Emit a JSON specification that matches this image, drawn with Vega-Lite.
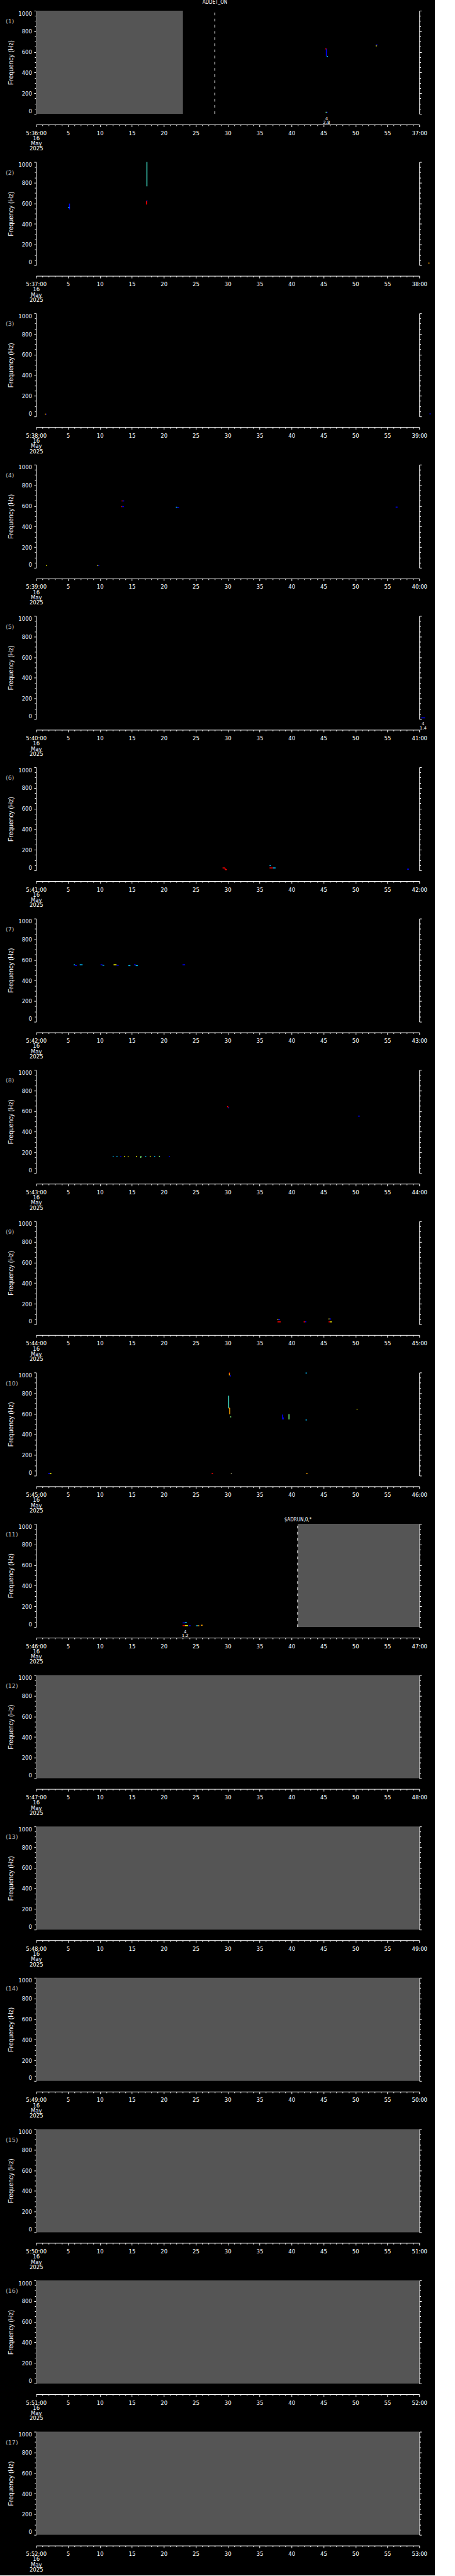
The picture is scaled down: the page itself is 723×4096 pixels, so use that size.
{
"$schema": "https://vega.github.io/schema/vega-lite/v6.json",
"padding": {"left": 8.25, "top": 0, "right": 5, "bottom": 5},
"bounds": "flush",
"spacing": 76.6,
"config": {
  "background": "#000000",
  "view": {"stroke": null, "fill": "#000000"},
  "axis": {"domainColor": "#ffffff", "tickColor": "#ffffff", "labelColor": "#ffffff", "titleColor": "#ffffff", "labelFont": "DejaVu Sans", "labelFontSize": 8.5, "domainWidth": 1, "tickWidth": 1, "grid": false}
},
"datasets": {
"m": [
{"p":1,"k":"grey","s0":0,"s1":23.0,"f0":0,"f1":1000},
{"p":1,"k":"dash","s0":28.0,"f0":0,"f1":1000},
{"p":1,"k":"ev","s0":28.0,"f0":1077,"label":"ADDET_ON"},
{"p":1,"k":"seg","s0":45.45,"s1":45.45,"f0":633,"f1":559,"lv":0},
{"p":1,"k":"seg","s0":45.3,"s1":45.45,"f0":630,"f1":630,"lv":6},
{"p":1,"k":"seg","s0":45.5,"s1":45.7,"f0":557,"f1":557,"lv":1},
{"p":1,"k":"seg","s0":53.25,"s1":53.25,"f0":668,"f1":653,"lv":4},
{"p":1,"k":"seg","s0":53.25,"s1":53.45,"f0":668,"f1":668,"lv":0},
{"p":1,"k":"seg","s0":45.34,"s1":45.5,"f0":15,"f1":15,"lv":3},
{"p":1,"k":"seg","s0":45.5,"s1":45.65,"f0":15,"f1":15,"lv":0},
{"p":1,"k":"note","s0":45.48,"f0":-47,"label":"4\n2.8"},
{"p":2,"k":"seg","s0":17.36,"s1":17.36,"f0":1000,"f1":764,"lv":2},
{"p":2,"k":"seg","s0":17.3,"s1":17.3,"f0":623,"f1":587,"lv":6},
{"p":2,"k":"seg","s0":17.3,"s1":17.45,"f0":623,"f1":623,"lv":0},
{"p":2,"k":"seg","s0":5.24,"s1":5.24,"f0":597,"f1":540,"lv":0},
{"p":2,"k":"seg","s0":5.0,"s1":5.24,"f0":557,"f1":557,"lv":1},
{"p":2,"k":"seg","s0":61.4,"s1":61.6,"f0":20,"f1":20,"lv":5},
{"p":3,"k":"seg","s0":1.4,"s1":1.55,"f0":22,"f1":22,"lv":5},
{"p":3,"k":"seg","s0":1.55,"s1":1.65,"f0":22,"f1":22,"lv":0},
{"p":3,"k":"seg","s0":61.6,"s1":61.8,"f0":25,"f1":25,"lv":0},
{"p":4,"k":"seg","s0":13.4,"s1":13.55,"f0":648,"f1":648,"lv":6},
{"p":4,"k":"seg","s0":13.55,"s1":13.8,"f0":648,"f1":648,"lv":0},
{"p":4,"k":"seg","s0":13.35,"s1":13.5,"f0":593,"f1":593,"lv":6},
{"p":4,"k":"seg","s0":13.5,"s1":13.75,"f0":593,"f1":593,"lv":0},
{"p":4,"k":"seg","s0":21.9,"s1":22.1,"f0":587,"f1":587,"lv":1},
{"p":4,"k":"seg","s0":22.1,"s1":22.4,"f0":583,"f1":583,"lv":0},
{"p":4,"k":"seg","s0":56.3,"s1":56.6,"f0":588,"f1":588,"lv":0},
{"p":4,"k":"seg","s0":1.6,"s1":1.75,"f0":22,"f1":22,"lv":4},
{"p":4,"k":"seg","s0":9.6,"s1":9.75,"f0":22,"f1":22,"lv":4},
{"p":4,"k":"seg","s0":9.75,"s1":9.9,"f0":22,"f1":22,"lv":0},
{"p":5,"k":"seg","s0":60.3,"s1":60.9,"f0":12,"f1":12,"lv":0},
{"p":5,"k":"note","s0":60.6,"f0":-47,"label":"4\n1.4"},
{"p":6,"k":"seg","s0":29.2,"s1":29.6,"f0":24,"f1":24,"lv":6},
{"p":6,"k":"seg","s0":29.6,"s1":29.6,"f0":24,"f1":7,"lv":6},
{"p":6,"k":"seg","s0":29.6,"s1":29.9,"f0":7,"f1":7,"lv":6},
{"p":6,"k":"seg","s0":36.56,"s1":36.76,"f0":47,"f1":47,"lv":1},
{"p":6,"k":"seg","s0":36.56,"s1":37.1,"f0":24,"f1":24,"lv":6},
{"p":6,"k":"seg","s0":37.1,"s1":37.5,"f0":24,"f1":24,"lv":1},
{"p":6,"k":"seg","s0":58.1,"s1":58.4,"f0":12,"f1":12,"lv":0},
{"p":7,"k":"seg","s0":5.9,"s1":6.1,"f0":552,"f1":552,"lv":1},
{"p":7,"k":"seg","s0":6.1,"s1":6.4,"f0":545,"f1":545,"lv":0},
{"p":7,"k":"seg","s0":6.84,"s1":7.29,"f0":552,"f1":552,"lv":1},
{"p":7,"k":"seg","s0":10.1,"s1":10.4,"f0":552,"f1":552,"lv":0},
{"p":7,"k":"seg","s0":10.4,"s1":10.67,"f0":548,"f1":548,"lv":1},
{"p":7,"k":"seg","s0":12.14,"s1":12.6,"f0":552,"f1":552,"lv":4},
{"p":7,"k":"seg","s0":12.6,"s1":12.95,"f0":548,"f1":548,"lv":0},
{"p":7,"k":"seg","s0":14.46,"s1":14.78,"f0":544,"f1":544,"lv":1},
{"p":7,"k":"seg","s0":15.35,"s1":15.6,"f0":552,"f1":552,"lv":0},
{"p":7,"k":"seg","s0":15.6,"s1":15.93,"f0":544,"f1":544,"lv":1},
{"p":7,"k":"seg","s0":22.94,"s1":23.34,"f0":552,"f1":552,"lv":0},
{"p":8,"k":"seg","s0":29.95,"s1":30.1,"f0":648,"f1":636,"lv":6},
{"p":8,"k":"seg","s0":30.1,"s1":30.24,"f0":632,"f1":632,"lv":0},
{"p":8,"k":"seg","s0":50.4,"s1":50.7,"f0":552,"f1":552,"lv":0},
{"p":8,"k":"seg","s0":12.0,"s1":12.15,"f0":160,"f1":160,"lv":1},
{"p":8,"k":"seg","s0":12.6,"s1":12.75,"f0":160,"f1":160,"lv":1},
{"p":8,"k":"seg","s0":13.2,"s1":13.35,"f0":160,"f1":160,"lv":0},
{"p":8,"k":"seg","s0":13.8,"s1":13.95,"f0":162,"f1":162,"lv":4},
{"p":8,"k":"seg","s0":14.35,"s1":14.5,"f0":158,"f1":158,"lv":4},
{"p":8,"k":"seg","s0":15.65,"s1":15.8,"f0":162,"f1":162,"lv":4},
{"p":8,"k":"seg","s0":16.35,"s1":16.5,"f0":160,"f1":160,"lv":3},
{"p":8,"k":"seg","s0":16.4,"s1":16.4,"f0":160,"f1":148,"lv":3},
{"p":8,"k":"seg","s0":17.1,"s1":17.25,"f0":160,"f1":160,"lv":1},
{"p":8,"k":"seg","s0":17.8,"s1":17.95,"f0":162,"f1":162,"lv":4},
{"p":8,"k":"seg","s0":18.5,"s1":18.65,"f0":160,"f1":160,"lv":1},
{"p":8,"k":"seg","s0":19.25,"s1":19.4,"f0":162,"f1":162,"lv":3},
{"p":8,"k":"seg","s0":20.8,"s1":20.95,"f0":160,"f1":160,"lv":0},
{"p":9,"k":"seg","s0":37.8,"s1":37.95,"f0":46,"f1":46,"lv":4},
{"p":9,"k":"seg","s0":37.95,"s1":38.2,"f0":46,"f1":46,"lv":0},
{"p":9,"k":"seg","s0":37.8,"s1":38.3,"f0":24,"f1":24,"lv":6},
{"p":9,"k":"seg","s0":41.9,"s1":42.15,"f0":24,"f1":24,"lv":6},
{"p":9,"k":"seg","s0":42.15,"s1":42.3,"f0":24,"f1":24,"lv":0},
{"p":9,"k":"seg","s0":45.8,"s1":45.95,"f0":52,"f1":52,"lv":4},
{"p":9,"k":"seg","s0":45.95,"s1":46.2,"f0":52,"f1":52,"lv":0},
{"p":9,"k":"seg","s0":45.8,"s1":46.05,"f0":24,"f1":24,"lv":6},
{"p":9,"k":"seg","s0":46.05,"s1":46.3,"f0":24,"f1":24,"lv":4},
{"p":10,"k":"seg","s0":30.16,"s1":30.16,"f0":775,"f1":655,"lv":2},
{"p":10,"k":"seg","s0":30.16,"s1":30.32,"f0":655,"f1":655,"lv":5},
{"p":10,"k":"seg","s0":30.32,"s1":30.32,"f0":655,"f1":595,"lv":5},
{"p":10,"k":"seg","s0":30.4,"s1":30.55,"f0":570,"f1":570,"lv":3},
{"p":10,"k":"seg","s0":30.27,"s1":30.27,"f0":997,"f1":972,"lv":5},
{"p":10,"k":"seg","s0":30.22,"s1":30.3,"f0":997,"f1":997,"lv":6},
{"p":10,"k":"seg","s0":30.45,"s1":30.45,"f0":972,"f1":962,"lv":0},
{"p":10,"k":"seg","s0":38.6,"s1":38.6,"f0":592,"f1":545,"lv":0},
{"p":10,"k":"seg","s0":38.7,"s1":38.7,"f0":565,"f1":545,"lv":0},
{"p":10,"k":"seg","s0":39.6,"s1":39.6,"f0":597,"f1":545,"lv":3},
{"p":10,"k":"seg","s0":42.2,"s1":42.4,"f0":995,"f1":995,"lv":1},
{"p":10,"k":"seg","s0":42.2,"s1":42.4,"f0":540,"f1":540,"lv":1},
{"p":10,"k":"seg","s0":50.2,"s1":50.3,"f0":643,"f1":643,"lv":4},
{"p":10,"k":"seg","s0":1.9,"s1":2.15,"f0":20,"f1":20,"lv":0},
{"p":10,"k":"seg","s0":2.15,"s1":2.4,"f0":20,"f1":20,"lv":4},
{"p":10,"k":"seg","s0":27.5,"s1":27.7,"f0":22,"f1":22,"lv":6},
{"p":10,"k":"seg","s0":30.5,"s1":30.6,"f0":22,"f1":22,"lv":4},
{"p":10,"k":"seg","s0":30.6,"s1":30.7,"f0":22,"f1":22,"lv":0},
{"p":10,"k":"seg","s0":42.3,"s1":42.5,"f0":22,"f1":22,"lv":5},
{"p":11,"k":"grey","s0":40.96,"s1":60,"f0":0,"f1":1000},
{"p":11,"k":"dash","s0":40.96,"f0":0,"f1":1000},
{"p":11,"k":"ev","s0":41.0,"f0":1036,"label":"$ADRUN,0,*"},
{"p":11,"k":"seg","s0":22.95,"s1":23.3,"f0":40,"f1":40,"lv":0},
{"p":11,"k":"seg","s0":23.3,"s1":23.6,"f0":42,"f1":42,"lv":1},
{"p":11,"k":"seg","s0":22.95,"s1":23.3,"f0":13,"f1":13,"lv":6},
{"p":11,"k":"seg","s0":23.3,"s1":23.8,"f0":13,"f1":13,"lv":4},
{"p":11,"k":"seg","s0":23.9,"s1":24.2,"f0":12,"f1":12,"lv":0},
{"p":11,"k":"seg","s0":25.07,"s1":25.3,"f0":12,"f1":12,"lv":1},
{"p":11,"k":"seg","s0":25.3,"s1":25.55,"f0":12,"f1":12,"lv":5},
{"p":11,"k":"seg","s0":25.8,"s1":26.07,"f0":17,"f1":17,"lv":5},
{"p":11,"k":"note","s0":23.35,"f0":-47,"label":"4\n1.2"},
{"p":12,"k":"grey","s0":0,"s1":60,"f0":0,"f1":1000},
{"p":13,"k":"grey","s0":0,"s1":60,"f0":0,"f1":1000},
{"p":14,"k":"grey","s0":0,"s1":60,"f0":0,"f1":1000},
{"p":15,"k":"grey","s0":0,"s1":60,"f0":0,"f1":1000},
{"p":16,"k":"grey","s0":0,"s1":60,"f0":0,"f1":1000},
{"p":17,"k":"grey","s0":0,"s1":60,"f0":0,"f1":1000}
]
},
"data": {"name": "m"},
"vconcat": [
{"width":609,"height":164,"transform":[{"filter":"datum.p==1"}],"resolve":{"axis":{"x":"independent","y":"independent"}},"layer":[
{"transform":[{"filter":"datum.k=='grey'"}],"mark":{"type":"rect","fill":"#555555"},"encoding":{"x":{"field":"s0","type":"quantitative","scale":{"domain":[0,60],"nice":false,"zero":false},"axis":{"title":null,"offset":17,"values":[0,1,2,3,4,5,6,7,8,9,10,11,12,13,14,15,16,17,18,19,20,21,22,23,24,25,26,27,28,29,30,31,32,33,34,35,36,37,38,39,40,41,42,43,44,45,46,47,48,49,50,51,52,53,54,55,56,57,58,59,60],"tickSize":{"condition":{"test":"datum.value % 5 == 0","value":3.5},"value":2},"labelFlush":false,"labelOverlap":false,"labelBound":false,"labelPadding":5.6,"labelLineHeight":8.25,"labelExpr":"datum.value == 0 ? ['5:36:00','16','May','2025'] : datum.value == 60 ? '37:00' : datum.value % 5 == 0 ? '' + datum.value : ''"}},"x2":{"field":"s1"},"y":{"field":"f0","type":"quantitative","scale":{"domain":[0,1000],"nice":false,"zero":false},"axis":{"title":"Frequency (Hz)","values":[0,50,100,150,200,250,300,350,400,450,500,550,600,650,700,750,800,850,900,950,1000],"format":"d","labelExpr":"datum.value % 200 == 0 ? datum.label : ''","tickSize":{"condition":{"test":"datum.value % 200 == 0","value":3.3},"value":2.3},"labelPadding":3.5,"labelFlush":true,"labelOverlap":false,"titleX":-36.95,"titleY":82,"titleAngle":-90,"titleAlign":"center","titleBaseline":"alphabetic","titleFont":"Liberation Sans","titleFontSize":10.3,"titleFontWeight":"normal"}},"y2":{"field":"f1"}}},
{"transform":[{"filter":"datum.k=='seg'"}],"mark":{"type":"rule","strokeWidth":1.5},"encoding":{"x":{"field":"s0","type":"quantitative","axis":null},"x2":{"field":"s1"},"y":{"field":"f0","type":"quantitative","axis":{"orient":"right","title":"(1)","values":[0,50,100,150,200,250,300,350,400,450,500,550,600,650,700,750,800,850,900,950,1000],"labels":false,"tickSize":{"condition":{"test":"datum.value % 200 == 0","value":3.3},"value":2.3},"titleX":-657.65,"titleY":16.6,"titleAngle":0,"titleAlign":"left","titleBaseline":"middle","titleFont":"DejaVu Sans","titleFontSize":9.5,"titleFontWeight":"normal","titleColor":"#b4b4b4"}},"y2":{"field":"f1"},"color":{"field":"lv","type":"ordinal","scale":{"domain":[0,1,2,3,4,5,6],"range":["#0000ff","#00bfff","#40e0c8","#80ff80","#ffff00","#ffa500","#ff0000"]},"legend":null}}},
{"transform":[{"filter":"datum.k=='dash'"}],"mark":{"type":"rule","color":"#ffffff","strokeDash":[4.2,5.6],"strokeWidth":1.2},"encoding":{"x":{"field":"s0","type":"quantitative","axis":null},"y":{"field":"f0","type":"quantitative","axis":null},"y2":{"field":"f1"}}},
{"transform":[{"filter":"datum.k=='ev'"}],"mark":{"type":"text","color":"#ffffff","font":"Liberation Sans Narrow, DejaVu Sans Condensed, DejaVu Sans","fontSize":8,"baseline":"middle"},"encoding":{"x":{"field":"s0","type":"quantitative","axis":null},"y":{"field":"f0","type":"quantitative","axis":null},"text":{"field":"label"}}},
{"transform":[{"filter":"datum.k=='note'"}],"mark":{"type":"text","color":"#ffffff","font":"DejaVu Sans","fontSize":7,"baseline":"middle","lineBreak":"\n","lineHeight":6.6},"encoding":{"x":{"field":"s0","type":"quantitative","axis":null},"y":{"field":"f0","type":"quantitative","axis":null},"text":{"field":"label"}}}
]},
{"width":609,"height":164,"transform":[{"filter":"datum.p==2"}],"resolve":{"axis":{"x":"independent","y":"independent"}},"layer":[
{"transform":[{"filter":"datum.k=='grey'"}],"mark":{"type":"rect","fill":"#555555"},"encoding":{"x":{"field":"s0","type":"quantitative","scale":{"domain":[0,60],"nice":false,"zero":false},"axis":{"title":null,"offset":17,"values":[0,1,2,3,4,5,6,7,8,9,10,11,12,13,14,15,16,17,18,19,20,21,22,23,24,25,26,27,28,29,30,31,32,33,34,35,36,37,38,39,40,41,42,43,44,45,46,47,48,49,50,51,52,53,54,55,56,57,58,59,60],"tickSize":{"condition":{"test":"datum.value % 5 == 0","value":3.5},"value":2},"labelFlush":false,"labelOverlap":false,"labelBound":false,"labelPadding":5.6,"labelLineHeight":8.25,"labelExpr":"datum.value == 0 ? ['5:37:00','16','May','2025'] : datum.value == 60 ? '38:00' : datum.value % 5 == 0 ? '' + datum.value : ''"}},"x2":{"field":"s1"},"y":{"field":"f0","type":"quantitative","scale":{"domain":[0,1000],"nice":false,"zero":false},"axis":{"title":"Frequency (Hz)","values":[0,50,100,150,200,250,300,350,400,450,500,550,600,650,700,750,800,850,900,950,1000],"format":"d","labelExpr":"datum.value % 200 == 0 ? datum.label : ''","tickSize":{"condition":{"test":"datum.value % 200 == 0","value":3.3},"value":2.3},"labelPadding":3.5,"labelFlush":true,"labelOverlap":false,"titleX":-36.95,"titleY":82,"titleAngle":-90,"titleAlign":"center","titleBaseline":"alphabetic","titleFont":"Liberation Sans","titleFontSize":10.3,"titleFontWeight":"normal"}},"y2":{"field":"f1"}}},
{"transform":[{"filter":"datum.k=='seg'"}],"mark":{"type":"rule","strokeWidth":1.5},"encoding":{"x":{"field":"s0","type":"quantitative","axis":null},"x2":{"field":"s1"},"y":{"field":"f0","type":"quantitative","axis":{"orient":"right","title":"(2)","values":[0,50,100,150,200,250,300,350,400,450,500,550,600,650,700,750,800,850,900,950,1000],"labels":false,"tickSize":{"condition":{"test":"datum.value % 200 == 0","value":3.3},"value":2.3},"titleX":-657.65,"titleY":16.6,"titleAngle":0,"titleAlign":"left","titleBaseline":"middle","titleFont":"DejaVu Sans","titleFontSize":9.5,"titleFontWeight":"normal","titleColor":"#b4b4b4"}},"y2":{"field":"f1"},"color":{"field":"lv","type":"ordinal","scale":{"domain":[0,1,2,3,4,5,6],"range":["#0000ff","#00bfff","#40e0c8","#80ff80","#ffff00","#ffa500","#ff0000"]},"legend":null}}},
{"transform":[{"filter":"datum.k=='note'"}],"mark":{"type":"text","color":"#ffffff","font":"DejaVu Sans","fontSize":7,"baseline":"middle","lineBreak":"\n","lineHeight":6.6},"encoding":{"x":{"field":"s0","type":"quantitative","axis":null},"y":{"field":"f0","type":"quantitative","axis":null},"text":{"field":"label"}}}
]},
{"width":609,"height":164,"transform":[{"filter":"datum.p==3"}],"resolve":{"axis":{"x":"independent","y":"independent"}},"layer":[
{"transform":[{"filter":"datum.k=='grey'"}],"mark":{"type":"rect","fill":"#555555"},"encoding":{"x":{"field":"s0","type":"quantitative","scale":{"domain":[0,60],"nice":false,"zero":false},"axis":{"title":null,"offset":17,"values":[0,1,2,3,4,5,6,7,8,9,10,11,12,13,14,15,16,17,18,19,20,21,22,23,24,25,26,27,28,29,30,31,32,33,34,35,36,37,38,39,40,41,42,43,44,45,46,47,48,49,50,51,52,53,54,55,56,57,58,59,60],"tickSize":{"condition":{"test":"datum.value % 5 == 0","value":3.5},"value":2},"labelFlush":false,"labelOverlap":false,"labelBound":false,"labelPadding":5.6,"labelLineHeight":8.25,"labelExpr":"datum.value == 0 ? ['5:38:00','16','May','2025'] : datum.value == 60 ? '39:00' : datum.value % 5 == 0 ? '' + datum.value : ''"}},"x2":{"field":"s1"},"y":{"field":"f0","type":"quantitative","scale":{"domain":[0,1000],"nice":false,"zero":false},"axis":{"title":"Frequency (Hz)","values":[0,50,100,150,200,250,300,350,400,450,500,550,600,650,700,750,800,850,900,950,1000],"format":"d","labelExpr":"datum.value % 200 == 0 ? datum.label : ''","tickSize":{"condition":{"test":"datum.value % 200 == 0","value":3.3},"value":2.3},"labelPadding":3.5,"labelFlush":true,"labelOverlap":false,"titleX":-36.95,"titleY":82,"titleAngle":-90,"titleAlign":"center","titleBaseline":"alphabetic","titleFont":"Liberation Sans","titleFontSize":10.3,"titleFontWeight":"normal"}},"y2":{"field":"f1"}}},
{"transform":[{"filter":"datum.k=='seg'"}],"mark":{"type":"rule","strokeWidth":1.5},"encoding":{"x":{"field":"s0","type":"quantitative","axis":null},"x2":{"field":"s1"},"y":{"field":"f0","type":"quantitative","axis":{"orient":"right","title":"(3)","values":[0,50,100,150,200,250,300,350,400,450,500,550,600,650,700,750,800,850,900,950,1000],"labels":false,"tickSize":{"condition":{"test":"datum.value % 200 == 0","value":3.3},"value":2.3},"titleX":-657.65,"titleY":16.6,"titleAngle":0,"titleAlign":"left","titleBaseline":"middle","titleFont":"DejaVu Sans","titleFontSize":9.5,"titleFontWeight":"normal","titleColor":"#b4b4b4"}},"y2":{"field":"f1"},"color":{"field":"lv","type":"ordinal","scale":{"domain":[0,1,2,3,4,5,6],"range":["#0000ff","#00bfff","#40e0c8","#80ff80","#ffff00","#ffa500","#ff0000"]},"legend":null}}}
]},
{"width":609,"height":164,"transform":[{"filter":"datum.p==4"}],"resolve":{"axis":{"x":"independent","y":"independent"}},"layer":[
{"transform":[{"filter":"datum.k=='grey'"}],"mark":{"type":"rect","fill":"#555555"},"encoding":{"x":{"field":"s0","type":"quantitative","scale":{"domain":[0,60],"nice":false,"zero":false},"axis":{"title":null,"offset":17,"values":[0,1,2,3,4,5,6,7,8,9,10,11,12,13,14,15,16,17,18,19,20,21,22,23,24,25,26,27,28,29,30,31,32,33,34,35,36,37,38,39,40,41,42,43,44,45,46,47,48,49,50,51,52,53,54,55,56,57,58,59,60],"tickSize":{"condition":{"test":"datum.value % 5 == 0","value":3.5},"value":2},"labelFlush":false,"labelOverlap":false,"labelBound":false,"labelPadding":5.6,"labelLineHeight":8.25,"labelExpr":"datum.value == 0 ? ['5:39:00','16','May','2025'] : datum.value == 60 ? '40:00' : datum.value % 5 == 0 ? '' + datum.value : ''"}},"x2":{"field":"s1"},"y":{"field":"f0","type":"quantitative","scale":{"domain":[0,1000],"nice":false,"zero":false},"axis":{"title":"Frequency (Hz)","values":[0,50,100,150,200,250,300,350,400,450,500,550,600,650,700,750,800,850,900,950,1000],"format":"d","labelExpr":"datum.value % 200 == 0 ? datum.label : ''","tickSize":{"condition":{"test":"datum.value % 200 == 0","value":3.3},"value":2.3},"labelPadding":3.5,"labelFlush":true,"labelOverlap":false,"titleX":-36.95,"titleY":82,"titleAngle":-90,"titleAlign":"center","titleBaseline":"alphabetic","titleFont":"Liberation Sans","titleFontSize":10.3,"titleFontWeight":"normal"}},"y2":{"field":"f1"}}},
{"transform":[{"filter":"datum.k=='seg'"}],"mark":{"type":"rule","strokeWidth":1.5},"encoding":{"x":{"field":"s0","type":"quantitative","axis":null},"x2":{"field":"s1"},"y":{"field":"f0","type":"quantitative","axis":{"orient":"right","title":"(4)","values":[0,50,100,150,200,250,300,350,400,450,500,550,600,650,700,750,800,850,900,950,1000],"labels":false,"tickSize":{"condition":{"test":"datum.value % 200 == 0","value":3.3},"value":2.3},"titleX":-657.65,"titleY":16.6,"titleAngle":0,"titleAlign":"left","titleBaseline":"middle","titleFont":"DejaVu Sans","titleFontSize":9.5,"titleFontWeight":"normal","titleColor":"#b4b4b4"}},"y2":{"field":"f1"},"color":{"field":"lv","type":"ordinal","scale":{"domain":[0,1,2,3,4,5,6],"range":["#0000ff","#00bfff","#40e0c8","#80ff80","#ffff00","#ffa500","#ff0000"]},"legend":null}}}
]},
{"width":609,"height":164,"transform":[{"filter":"datum.p==5"}],"resolve":{"axis":{"x":"independent","y":"independent"}},"layer":[
{"transform":[{"filter":"datum.k=='grey'"}],"mark":{"type":"rect","fill":"#555555"},"encoding":{"x":{"field":"s0","type":"quantitative","scale":{"domain":[0,60],"nice":false,"zero":false},"axis":{"title":null,"offset":17,"values":[0,1,2,3,4,5,6,7,8,9,10,11,12,13,14,15,16,17,18,19,20,21,22,23,24,25,26,27,28,29,30,31,32,33,34,35,36,37,38,39,40,41,42,43,44,45,46,47,48,49,50,51,52,53,54,55,56,57,58,59,60],"tickSize":{"condition":{"test":"datum.value % 5 == 0","value":3.5},"value":2},"labelFlush":false,"labelOverlap":false,"labelBound":false,"labelPadding":5.6,"labelLineHeight":8.25,"labelExpr":"datum.value == 0 ? ['5:40:00','16','May','2025'] : datum.value == 60 ? '41:00' : datum.value % 5 == 0 ? '' + datum.value : ''"}},"x2":{"field":"s1"},"y":{"field":"f0","type":"quantitative","scale":{"domain":[0,1000],"nice":false,"zero":false},"axis":{"title":"Frequency (Hz)","values":[0,50,100,150,200,250,300,350,400,450,500,550,600,650,700,750,800,850,900,950,1000],"format":"d","labelExpr":"datum.value % 200 == 0 ? datum.label : ''","tickSize":{"condition":{"test":"datum.value % 200 == 0","value":3.3},"value":2.3},"labelPadding":3.5,"labelFlush":true,"labelOverlap":false,"titleX":-36.95,"titleY":82,"titleAngle":-90,"titleAlign":"center","titleBaseline":"alphabetic","titleFont":"Liberation Sans","titleFontSize":10.3,"titleFontWeight":"normal"}},"y2":{"field":"f1"}}},
{"transform":[{"filter":"datum.k=='seg'"}],"mark":{"type":"rule","strokeWidth":1.5},"encoding":{"x":{"field":"s0","type":"quantitative","axis":null},"x2":{"field":"s1"},"y":{"field":"f0","type":"quantitative","axis":{"orient":"right","title":"(5)","values":[0,50,100,150,200,250,300,350,400,450,500,550,600,650,700,750,800,850,900,950,1000],"labels":false,"tickSize":{"condition":{"test":"datum.value % 200 == 0","value":3.3},"value":2.3},"titleX":-657.65,"titleY":16.6,"titleAngle":0,"titleAlign":"left","titleBaseline":"middle","titleFont":"DejaVu Sans","titleFontSize":9.5,"titleFontWeight":"normal","titleColor":"#b4b4b4"}},"y2":{"field":"f1"},"color":{"field":"lv","type":"ordinal","scale":{"domain":[0,1,2,3,4,5,6],"range":["#0000ff","#00bfff","#40e0c8","#80ff80","#ffff00","#ffa500","#ff0000"]},"legend":null}}},
{"transform":[{"filter":"datum.k=='note'"}],"mark":{"type":"text","color":"#ffffff","font":"DejaVu Sans","fontSize":7,"baseline":"middle","lineBreak":"\n","lineHeight":6.6},"encoding":{"x":{"field":"s0","type":"quantitative","axis":null},"y":{"field":"f0","type":"quantitative","axis":null},"text":{"field":"label"}}}
]},
{"width":609,"height":164,"transform":[{"filter":"datum.p==6"}],"resolve":{"axis":{"x":"independent","y":"independent"}},"layer":[
{"transform":[{"filter":"datum.k=='grey'"}],"mark":{"type":"rect","fill":"#555555"},"encoding":{"x":{"field":"s0","type":"quantitative","scale":{"domain":[0,60],"nice":false,"zero":false},"axis":{"title":null,"offset":17,"values":[0,1,2,3,4,5,6,7,8,9,10,11,12,13,14,15,16,17,18,19,20,21,22,23,24,25,26,27,28,29,30,31,32,33,34,35,36,37,38,39,40,41,42,43,44,45,46,47,48,49,50,51,52,53,54,55,56,57,58,59,60],"tickSize":{"condition":{"test":"datum.value % 5 == 0","value":3.5},"value":2},"labelFlush":false,"labelOverlap":false,"labelBound":false,"labelPadding":5.6,"labelLineHeight":8.25,"labelExpr":"datum.value == 0 ? ['5:41:00','16','May','2025'] : datum.value == 60 ? '42:00' : datum.value % 5 == 0 ? '' + datum.value : ''"}},"x2":{"field":"s1"},"y":{"field":"f0","type":"quantitative","scale":{"domain":[0,1000],"nice":false,"zero":false},"axis":{"title":"Frequency (Hz)","values":[0,50,100,150,200,250,300,350,400,450,500,550,600,650,700,750,800,850,900,950,1000],"format":"d","labelExpr":"datum.value % 200 == 0 ? datum.label : ''","tickSize":{"condition":{"test":"datum.value % 200 == 0","value":3.3},"value":2.3},"labelPadding":3.5,"labelFlush":true,"labelOverlap":false,"titleX":-36.95,"titleY":82,"titleAngle":-90,"titleAlign":"center","titleBaseline":"alphabetic","titleFont":"Liberation Sans","titleFontSize":10.3,"titleFontWeight":"normal"}},"y2":{"field":"f1"}}},
{"transform":[{"filter":"datum.k=='seg'"}],"mark":{"type":"rule","strokeWidth":1.5},"encoding":{"x":{"field":"s0","type":"quantitative","axis":null},"x2":{"field":"s1"},"y":{"field":"f0","type":"quantitative","axis":{"orient":"right","title":"(6)","values":[0,50,100,150,200,250,300,350,400,450,500,550,600,650,700,750,800,850,900,950,1000],"labels":false,"tickSize":{"condition":{"test":"datum.value % 200 == 0","value":3.3},"value":2.3},"titleX":-657.65,"titleY":16.6,"titleAngle":0,"titleAlign":"left","titleBaseline":"middle","titleFont":"DejaVu Sans","titleFontSize":9.5,"titleFontWeight":"normal","titleColor":"#b4b4b4"}},"y2":{"field":"f1"},"color":{"field":"lv","type":"ordinal","scale":{"domain":[0,1,2,3,4,5,6],"range":["#0000ff","#00bfff","#40e0c8","#80ff80","#ffff00","#ffa500","#ff0000"]},"legend":null}}}
]},
{"width":609,"height":164,"transform":[{"filter":"datum.p==7"}],"resolve":{"axis":{"x":"independent","y":"independent"}},"layer":[
{"transform":[{"filter":"datum.k=='grey'"}],"mark":{"type":"rect","fill":"#555555"},"encoding":{"x":{"field":"s0","type":"quantitative","scale":{"domain":[0,60],"nice":false,"zero":false},"axis":{"title":null,"offset":17,"values":[0,1,2,3,4,5,6,7,8,9,10,11,12,13,14,15,16,17,18,19,20,21,22,23,24,25,26,27,28,29,30,31,32,33,34,35,36,37,38,39,40,41,42,43,44,45,46,47,48,49,50,51,52,53,54,55,56,57,58,59,60],"tickSize":{"condition":{"test":"datum.value % 5 == 0","value":3.5},"value":2},"labelFlush":false,"labelOverlap":false,"labelBound":false,"labelPadding":5.6,"labelLineHeight":8.25,"labelExpr":"datum.value == 0 ? ['5:42:00','16','May','2025'] : datum.value == 60 ? '43:00' : datum.value % 5 == 0 ? '' + datum.value : ''"}},"x2":{"field":"s1"},"y":{"field":"f0","type":"quantitative","scale":{"domain":[0,1000],"nice":false,"zero":false},"axis":{"title":"Frequency (Hz)","values":[0,50,100,150,200,250,300,350,400,450,500,550,600,650,700,750,800,850,900,950,1000],"format":"d","labelExpr":"datum.value % 200 == 0 ? datum.label : ''","tickSize":{"condition":{"test":"datum.value % 200 == 0","value":3.3},"value":2.3},"labelPadding":3.5,"labelFlush":true,"labelOverlap":false,"titleX":-36.95,"titleY":82,"titleAngle":-90,"titleAlign":"center","titleBaseline":"alphabetic","titleFont":"Liberation Sans","titleFontSize":10.3,"titleFontWeight":"normal"}},"y2":{"field":"f1"}}},
{"transform":[{"filter":"datum.k=='seg'"}],"mark":{"type":"rule","strokeWidth":1.5},"encoding":{"x":{"field":"s0","type":"quantitative","axis":null},"x2":{"field":"s1"},"y":{"field":"f0","type":"quantitative","axis":{"orient":"right","title":"(7)","values":[0,50,100,150,200,250,300,350,400,450,500,550,600,650,700,750,800,850,900,950,1000],"labels":false,"tickSize":{"condition":{"test":"datum.value % 200 == 0","value":3.3},"value":2.3},"titleX":-657.65,"titleY":16.6,"titleAngle":0,"titleAlign":"left","titleBaseline":"middle","titleFont":"DejaVu Sans","titleFontSize":9.5,"titleFontWeight":"normal","titleColor":"#b4b4b4"}},"y2":{"field":"f1"},"color":{"field":"lv","type":"ordinal","scale":{"domain":[0,1,2,3,4,5,6],"range":["#0000ff","#00bfff","#40e0c8","#80ff80","#ffff00","#ffa500","#ff0000"]},"legend":null}}}
]},
{"width":609,"height":164,"transform":[{"filter":"datum.p==8"}],"resolve":{"axis":{"x":"independent","y":"independent"}},"layer":[
{"transform":[{"filter":"datum.k=='grey'"}],"mark":{"type":"rect","fill":"#555555"},"encoding":{"x":{"field":"s0","type":"quantitative","scale":{"domain":[0,60],"nice":false,"zero":false},"axis":{"title":null,"offset":17,"values":[0,1,2,3,4,5,6,7,8,9,10,11,12,13,14,15,16,17,18,19,20,21,22,23,24,25,26,27,28,29,30,31,32,33,34,35,36,37,38,39,40,41,42,43,44,45,46,47,48,49,50,51,52,53,54,55,56,57,58,59,60],"tickSize":{"condition":{"test":"datum.value % 5 == 0","value":3.5},"value":2},"labelFlush":false,"labelOverlap":false,"labelBound":false,"labelPadding":5.6,"labelLineHeight":8.25,"labelExpr":"datum.value == 0 ? ['5:43:00','16','May','2025'] : datum.value == 60 ? '44:00' : datum.value % 5 == 0 ? '' + datum.value : ''"}},"x2":{"field":"s1"},"y":{"field":"f0","type":"quantitative","scale":{"domain":[0,1000],"nice":false,"zero":false},"axis":{"title":"Frequency (Hz)","values":[0,50,100,150,200,250,300,350,400,450,500,550,600,650,700,750,800,850,900,950,1000],"format":"d","labelExpr":"datum.value % 200 == 0 ? datum.label : ''","tickSize":{"condition":{"test":"datum.value % 200 == 0","value":3.3},"value":2.3},"labelPadding":3.5,"labelFlush":true,"labelOverlap":false,"titleX":-36.95,"titleY":82,"titleAngle":-90,"titleAlign":"center","titleBaseline":"alphabetic","titleFont":"Liberation Sans","titleFontSize":10.3,"titleFontWeight":"normal"}},"y2":{"field":"f1"}}},
{"transform":[{"filter":"datum.k=='seg'"}],"mark":{"type":"rule","strokeWidth":1.5},"encoding":{"x":{"field":"s0","type":"quantitative","axis":null},"x2":{"field":"s1"},"y":{"field":"f0","type":"quantitative","axis":{"orient":"right","title":"(8)","values":[0,50,100,150,200,250,300,350,400,450,500,550,600,650,700,750,800,850,900,950,1000],"labels":false,"tickSize":{"condition":{"test":"datum.value % 200 == 0","value":3.3},"value":2.3},"titleX":-657.65,"titleY":16.6,"titleAngle":0,"titleAlign":"left","titleBaseline":"middle","titleFont":"DejaVu Sans","titleFontSize":9.5,"titleFontWeight":"normal","titleColor":"#b4b4b4"}},"y2":{"field":"f1"},"color":{"field":"lv","type":"ordinal","scale":{"domain":[0,1,2,3,4,5,6],"range":["#0000ff","#00bfff","#40e0c8","#80ff80","#ffff00","#ffa500","#ff0000"]},"legend":null}}}
]},
{"width":609,"height":164,"transform":[{"filter":"datum.p==9"}],"resolve":{"axis":{"x":"independent","y":"independent"}},"layer":[
{"transform":[{"filter":"datum.k=='grey'"}],"mark":{"type":"rect","fill":"#555555"},"encoding":{"x":{"field":"s0","type":"quantitative","scale":{"domain":[0,60],"nice":false,"zero":false},"axis":{"title":null,"offset":17,"values":[0,1,2,3,4,5,6,7,8,9,10,11,12,13,14,15,16,17,18,19,20,21,22,23,24,25,26,27,28,29,30,31,32,33,34,35,36,37,38,39,40,41,42,43,44,45,46,47,48,49,50,51,52,53,54,55,56,57,58,59,60],"tickSize":{"condition":{"test":"datum.value % 5 == 0","value":3.5},"value":2},"labelFlush":false,"labelOverlap":false,"labelBound":false,"labelPadding":5.6,"labelLineHeight":8.25,"labelExpr":"datum.value == 0 ? ['5:44:00','16','May','2025'] : datum.value == 60 ? '45:00' : datum.value % 5 == 0 ? '' + datum.value : ''"}},"x2":{"field":"s1"},"y":{"field":"f0","type":"quantitative","scale":{"domain":[0,1000],"nice":false,"zero":false},"axis":{"title":"Frequency (Hz)","values":[0,50,100,150,200,250,300,350,400,450,500,550,600,650,700,750,800,850,900,950,1000],"format":"d","labelExpr":"datum.value % 200 == 0 ? datum.label : ''","tickSize":{"condition":{"test":"datum.value % 200 == 0","value":3.3},"value":2.3},"labelPadding":3.5,"labelFlush":true,"labelOverlap":false,"titleX":-36.95,"titleY":82,"titleAngle":-90,"titleAlign":"center","titleBaseline":"alphabetic","titleFont":"Liberation Sans","titleFontSize":10.3,"titleFontWeight":"normal"}},"y2":{"field":"f1"}}},
{"transform":[{"filter":"datum.k=='seg'"}],"mark":{"type":"rule","strokeWidth":1.5},"encoding":{"x":{"field":"s0","type":"quantitative","axis":null},"x2":{"field":"s1"},"y":{"field":"f0","type":"quantitative","axis":{"orient":"right","title":"(9)","values":[0,50,100,150,200,250,300,350,400,450,500,550,600,650,700,750,800,850,900,950,1000],"labels":false,"tickSize":{"condition":{"test":"datum.value % 200 == 0","value":3.3},"value":2.3},"titleX":-657.65,"titleY":16.6,"titleAngle":0,"titleAlign":"left","titleBaseline":"middle","titleFont":"DejaVu Sans","titleFontSize":9.5,"titleFontWeight":"normal","titleColor":"#b4b4b4"}},"y2":{"field":"f1"},"color":{"field":"lv","type":"ordinal","scale":{"domain":[0,1,2,3,4,5,6],"range":["#0000ff","#00bfff","#40e0c8","#80ff80","#ffff00","#ffa500","#ff0000"]},"legend":null}}}
]},
{"width":609,"height":164,"transform":[{"filter":"datum.p==10"}],"resolve":{"axis":{"x":"independent","y":"independent"}},"layer":[
{"transform":[{"filter":"datum.k=='grey'"}],"mark":{"type":"rect","fill":"#555555"},"encoding":{"x":{"field":"s0","type":"quantitative","scale":{"domain":[0,60],"nice":false,"zero":false},"axis":{"title":null,"offset":17,"values":[0,1,2,3,4,5,6,7,8,9,10,11,12,13,14,15,16,17,18,19,20,21,22,23,24,25,26,27,28,29,30,31,32,33,34,35,36,37,38,39,40,41,42,43,44,45,46,47,48,49,50,51,52,53,54,55,56,57,58,59,60],"tickSize":{"condition":{"test":"datum.value % 5 == 0","value":3.5},"value":2},"labelFlush":false,"labelOverlap":false,"labelBound":false,"labelPadding":5.6,"labelLineHeight":8.25,"labelExpr":"datum.value == 0 ? ['5:45:00','16','May','2025'] : datum.value == 60 ? '46:00' : datum.value % 5 == 0 ? '' + datum.value : ''"}},"x2":{"field":"s1"},"y":{"field":"f0","type":"quantitative","scale":{"domain":[0,1000],"nice":false,"zero":false},"axis":{"title":"Frequency (Hz)","values":[0,50,100,150,200,250,300,350,400,450,500,550,600,650,700,750,800,850,900,950,1000],"format":"d","labelExpr":"datum.value % 200 == 0 ? datum.label : ''","tickSize":{"condition":{"test":"datum.value % 200 == 0","value":3.3},"value":2.3},"labelPadding":3.5,"labelFlush":true,"labelOverlap":false,"titleX":-36.95,"titleY":82,"titleAngle":-90,"titleAlign":"center","titleBaseline":"alphabetic","titleFont":"Liberation Sans","titleFontSize":10.3,"titleFontWeight":"normal"}},"y2":{"field":"f1"}}},
{"transform":[{"filter":"datum.k=='seg'"}],"mark":{"type":"rule","strokeWidth":1.5},"encoding":{"x":{"field":"s0","type":"quantitative","axis":null},"x2":{"field":"s1"},"y":{"field":"f0","type":"quantitative","axis":{"orient":"right","title":"(10)","values":[0,50,100,150,200,250,300,350,400,450,500,550,600,650,700,750,800,850,900,950,1000],"labels":false,"tickSize":{"condition":{"test":"datum.value % 200 == 0","value":3.3},"value":2.3},"titleX":-657.65,"titleY":16.6,"titleAngle":0,"titleAlign":"left","titleBaseline":"middle","titleFont":"DejaVu Sans","titleFontSize":9.5,"titleFontWeight":"normal","titleColor":"#b4b4b4"}},"y2":{"field":"f1"},"color":{"field":"lv","type":"ordinal","scale":{"domain":[0,1,2,3,4,5,6],"range":["#0000ff","#00bfff","#40e0c8","#80ff80","#ffff00","#ffa500","#ff0000"]},"legend":null}}}
]},
{"width":609,"height":164,"transform":[{"filter":"datum.p==11"}],"resolve":{"axis":{"x":"independent","y":"independent"}},"layer":[
{"transform":[{"filter":"datum.k=='grey'"}],"mark":{"type":"rect","fill":"#555555"},"encoding":{"x":{"field":"s0","type":"quantitative","scale":{"domain":[0,60],"nice":false,"zero":false},"axis":{"title":null,"offset":17,"values":[0,1,2,3,4,5,6,7,8,9,10,11,12,13,14,15,16,17,18,19,20,21,22,23,24,25,26,27,28,29,30,31,32,33,34,35,36,37,38,39,40,41,42,43,44,45,46,47,48,49,50,51,52,53,54,55,56,57,58,59,60],"tickSize":{"condition":{"test":"datum.value % 5 == 0","value":3.5},"value":2},"labelFlush":false,"labelOverlap":false,"labelBound":false,"labelPadding":5.6,"labelLineHeight":8.25,"labelExpr":"datum.value == 0 ? ['5:46:00','16','May','2025'] : datum.value == 60 ? '47:00' : datum.value % 5 == 0 ? '' + datum.value : ''"}},"x2":{"field":"s1"},"y":{"field":"f0","type":"quantitative","scale":{"domain":[0,1000],"nice":false,"zero":false},"axis":{"title":"Frequency (Hz)","values":[0,50,100,150,200,250,300,350,400,450,500,550,600,650,700,750,800,850,900,950,1000],"format":"d","labelExpr":"datum.value % 200 == 0 ? datum.label : ''","tickSize":{"condition":{"test":"datum.value % 200 == 0","value":3.3},"value":2.3},"labelPadding":3.5,"labelFlush":true,"labelOverlap":false,"titleX":-36.95,"titleY":82,"titleAngle":-90,"titleAlign":"center","titleBaseline":"alphabetic","titleFont":"Liberation Sans","titleFontSize":10.3,"titleFontWeight":"normal"}},"y2":{"field":"f1"}}},
{"transform":[{"filter":"datum.k=='seg'"}],"mark":{"type":"rule","strokeWidth":1.5},"encoding":{"x":{"field":"s0","type":"quantitative","axis":null},"x2":{"field":"s1"},"y":{"field":"f0","type":"quantitative","axis":{"orient":"right","title":"(11)","values":[0,50,100,150,200,250,300,350,400,450,500,550,600,650,700,750,800,850,900,950,1000],"labels":false,"tickSize":{"condition":{"test":"datum.value % 200 == 0","value":3.3},"value":2.3},"titleX":-657.65,"titleY":16.6,"titleAngle":0,"titleAlign":"left","titleBaseline":"middle","titleFont":"DejaVu Sans","titleFontSize":9.5,"titleFontWeight":"normal","titleColor":"#b4b4b4"}},"y2":{"field":"f1"},"color":{"field":"lv","type":"ordinal","scale":{"domain":[0,1,2,3,4,5,6],"range":["#0000ff","#00bfff","#40e0c8","#80ff80","#ffff00","#ffa500","#ff0000"]},"legend":null}}},
{"transform":[{"filter":"datum.k=='dash'"}],"mark":{"type":"rule","color":"#ffffff","strokeDash":[4.2,5.6],"strokeWidth":1.2},"encoding":{"x":{"field":"s0","type":"quantitative","axis":null},"y":{"field":"f0","type":"quantitative","axis":null},"y2":{"field":"f1"}}},
{"transform":[{"filter":"datum.k=='ev'"}],"mark":{"type":"text","color":"#ffffff","font":"Liberation Sans Narrow, DejaVu Sans Condensed, DejaVu Sans","fontSize":8,"baseline":"middle"},"encoding":{"x":{"field":"s0","type":"quantitative","axis":null},"y":{"field":"f0","type":"quantitative","axis":null},"text":{"field":"label"}}},
{"transform":[{"filter":"datum.k=='note'"}],"mark":{"type":"text","color":"#ffffff","font":"DejaVu Sans","fontSize":7,"baseline":"middle","lineBreak":"\n","lineHeight":6.6},"encoding":{"x":{"field":"s0","type":"quantitative","axis":null},"y":{"field":"f0","type":"quantitative","axis":null},"text":{"field":"label"}}}
]},
{"width":609,"height":164,"transform":[{"filter":"datum.p==12"}],"resolve":{"axis":{"x":"independent","y":"independent"}},"layer":[
{"transform":[{"filter":"datum.k=='grey'"}],"mark":{"type":"rect","fill":"#555555"},"encoding":{"x":{"field":"s0","type":"quantitative","scale":{"domain":[0,60],"nice":false,"zero":false},"axis":{"title":null,"offset":17,"values":[0,1,2,3,4,5,6,7,8,9,10,11,12,13,14,15,16,17,18,19,20,21,22,23,24,25,26,27,28,29,30,31,32,33,34,35,36,37,38,39,40,41,42,43,44,45,46,47,48,49,50,51,52,53,54,55,56,57,58,59,60],"tickSize":{"condition":{"test":"datum.value % 5 == 0","value":3.5},"value":2},"labelFlush":false,"labelOverlap":false,"labelBound":false,"labelPadding":5.6,"labelLineHeight":8.25,"labelExpr":"datum.value == 0 ? ['5:47:00','16','May','2025'] : datum.value == 60 ? '48:00' : datum.value % 5 == 0 ? '' + datum.value : ''"}},"x2":{"field":"s1"},"y":{"field":"f0","type":"quantitative","scale":{"domain":[0,1000],"nice":false,"zero":false},"axis":{"title":"Frequency (Hz)","values":[0,50,100,150,200,250,300,350,400,450,500,550,600,650,700,750,800,850,900,950,1000],"format":"d","labelExpr":"datum.value % 200 == 0 ? datum.label : ''","tickSize":{"condition":{"test":"datum.value % 200 == 0","value":3.3},"value":2.3},"labelPadding":3.5,"labelFlush":true,"labelOverlap":false,"titleX":-36.95,"titleY":82,"titleAngle":-90,"titleAlign":"center","titleBaseline":"alphabetic","titleFont":"Liberation Sans","titleFontSize":10.3,"titleFontWeight":"normal"}},"y2":{"field":"f1"}}},
{"transform":[{"filter":"datum.k=='grey'"}],"mark":{"type":"rule","opacity":0},"encoding":{"x":{"field":"s0","type":"quantitative","axis":null},"y":{"field":"f0","type":"quantitative","axis":{"orient":"right","title":"(12)","values":[0,50,100,150,200,250,300,350,400,450,500,550,600,650,700,750,800,850,900,950,1000],"labels":false,"tickSize":{"condition":{"test":"datum.value % 200 == 0","value":3.3},"value":2.3},"titleX":-657.65,"titleY":16.6,"titleAngle":0,"titleAlign":"left","titleBaseline":"middle","titleFont":"DejaVu Sans","titleFontSize":9.5,"titleFontWeight":"normal","titleColor":"#b4b4b4"}}}}
]},
{"width":609,"height":164,"transform":[{"filter":"datum.p==13"}],"resolve":{"axis":{"x":"independent","y":"independent"}},"layer":[
{"transform":[{"filter":"datum.k=='grey'"}],"mark":{"type":"rect","fill":"#555555"},"encoding":{"x":{"field":"s0","type":"quantitative","scale":{"domain":[0,60],"nice":false,"zero":false},"axis":{"title":null,"offset":17,"values":[0,1,2,3,4,5,6,7,8,9,10,11,12,13,14,15,16,17,18,19,20,21,22,23,24,25,26,27,28,29,30,31,32,33,34,35,36,37,38,39,40,41,42,43,44,45,46,47,48,49,50,51,52,53,54,55,56,57,58,59,60],"tickSize":{"condition":{"test":"datum.value % 5 == 0","value":3.5},"value":2},"labelFlush":false,"labelOverlap":false,"labelBound":false,"labelPadding":5.6,"labelLineHeight":8.25,"labelExpr":"datum.value == 0 ? ['5:48:00','16','May','2025'] : datum.value == 60 ? '49:00' : datum.value % 5 == 0 ? '' + datum.value : ''"}},"x2":{"field":"s1"},"y":{"field":"f0","type":"quantitative","scale":{"domain":[0,1000],"nice":false,"zero":false},"axis":{"title":"Frequency (Hz)","values":[0,50,100,150,200,250,300,350,400,450,500,550,600,650,700,750,800,850,900,950,1000],"format":"d","labelExpr":"datum.value % 200 == 0 ? datum.label : ''","tickSize":{"condition":{"test":"datum.value % 200 == 0","value":3.3},"value":2.3},"labelPadding":3.5,"labelFlush":true,"labelOverlap":false,"titleX":-36.95,"titleY":82,"titleAngle":-90,"titleAlign":"center","titleBaseline":"alphabetic","titleFont":"Liberation Sans","titleFontSize":10.3,"titleFontWeight":"normal"}},"y2":{"field":"f1"}}},
{"transform":[{"filter":"datum.k=='grey'"}],"mark":{"type":"rule","opacity":0},"encoding":{"x":{"field":"s0","type":"quantitative","axis":null},"y":{"field":"f0","type":"quantitative","axis":{"orient":"right","title":"(13)","values":[0,50,100,150,200,250,300,350,400,450,500,550,600,650,700,750,800,850,900,950,1000],"labels":false,"tickSize":{"condition":{"test":"datum.value % 200 == 0","value":3.3},"value":2.3},"titleX":-657.65,"titleY":16.6,"titleAngle":0,"titleAlign":"left","titleBaseline":"middle","titleFont":"DejaVu Sans","titleFontSize":9.5,"titleFontWeight":"normal","titleColor":"#b4b4b4"}}}}
]},
{"width":609,"height":164,"transform":[{"filter":"datum.p==14"}],"resolve":{"axis":{"x":"independent","y":"independent"}},"layer":[
{"transform":[{"filter":"datum.k=='grey'"}],"mark":{"type":"rect","fill":"#555555"},"encoding":{"x":{"field":"s0","type":"quantitative","scale":{"domain":[0,60],"nice":false,"zero":false},"axis":{"title":null,"offset":17,"values":[0,1,2,3,4,5,6,7,8,9,10,11,12,13,14,15,16,17,18,19,20,21,22,23,24,25,26,27,28,29,30,31,32,33,34,35,36,37,38,39,40,41,42,43,44,45,46,47,48,49,50,51,52,53,54,55,56,57,58,59,60],"tickSize":{"condition":{"test":"datum.value % 5 == 0","value":3.5},"value":2},"labelFlush":false,"labelOverlap":false,"labelBound":false,"labelPadding":5.6,"labelLineHeight":8.25,"labelExpr":"datum.value == 0 ? ['5:49:00','16','May','2025'] : datum.value == 60 ? '50:00' : datum.value % 5 == 0 ? '' + datum.value : ''"}},"x2":{"field":"s1"},"y":{"field":"f0","type":"quantitative","scale":{"domain":[0,1000],"nice":false,"zero":false},"axis":{"title":"Frequency (Hz)","values":[0,50,100,150,200,250,300,350,400,450,500,550,600,650,700,750,800,850,900,950,1000],"format":"d","labelExpr":"datum.value % 200 == 0 ? datum.label : ''","tickSize":{"condition":{"test":"datum.value % 200 == 0","value":3.3},"value":2.3},"labelPadding":3.5,"labelFlush":true,"labelOverlap":false,"titleX":-36.95,"titleY":82,"titleAngle":-90,"titleAlign":"center","titleBaseline":"alphabetic","titleFont":"Liberation Sans","titleFontSize":10.3,"titleFontWeight":"normal"}},"y2":{"field":"f1"}}},
{"transform":[{"filter":"datum.k=='grey'"}],"mark":{"type":"rule","opacity":0},"encoding":{"x":{"field":"s0","type":"quantitative","axis":null},"y":{"field":"f0","type":"quantitative","axis":{"orient":"right","title":"(14)","values":[0,50,100,150,200,250,300,350,400,450,500,550,600,650,700,750,800,850,900,950,1000],"labels":false,"tickSize":{"condition":{"test":"datum.value % 200 == 0","value":3.3},"value":2.3},"titleX":-657.65,"titleY":16.6,"titleAngle":0,"titleAlign":"left","titleBaseline":"middle","titleFont":"DejaVu Sans","titleFontSize":9.5,"titleFontWeight":"normal","titleColor":"#b4b4b4"}}}}
]},
{"width":609,"height":164,"transform":[{"filter":"datum.p==15"}],"resolve":{"axis":{"x":"independent","y":"independent"}},"layer":[
{"transform":[{"filter":"datum.k=='grey'"}],"mark":{"type":"rect","fill":"#555555"},"encoding":{"x":{"field":"s0","type":"quantitative","scale":{"domain":[0,60],"nice":false,"zero":false},"axis":{"title":null,"offset":17,"values":[0,1,2,3,4,5,6,7,8,9,10,11,12,13,14,15,16,17,18,19,20,21,22,23,24,25,26,27,28,29,30,31,32,33,34,35,36,37,38,39,40,41,42,43,44,45,46,47,48,49,50,51,52,53,54,55,56,57,58,59,60],"tickSize":{"condition":{"test":"datum.value % 5 == 0","value":3.5},"value":2},"labelFlush":false,"labelOverlap":false,"labelBound":false,"labelPadding":5.6,"labelLineHeight":8.25,"labelExpr":"datum.value == 0 ? ['5:50:00','16','May','2025'] : datum.value == 60 ? '51:00' : datum.value % 5 == 0 ? '' + datum.value : ''"}},"x2":{"field":"s1"},"y":{"field":"f0","type":"quantitative","scale":{"domain":[0,1000],"nice":false,"zero":false},"axis":{"title":"Frequency (Hz)","values":[0,50,100,150,200,250,300,350,400,450,500,550,600,650,700,750,800,850,900,950,1000],"format":"d","labelExpr":"datum.value % 200 == 0 ? datum.label : ''","tickSize":{"condition":{"test":"datum.value % 200 == 0","value":3.3},"value":2.3},"labelPadding":3.5,"labelFlush":true,"labelOverlap":false,"titleX":-36.95,"titleY":82,"titleAngle":-90,"titleAlign":"center","titleBaseline":"alphabetic","titleFont":"Liberation Sans","titleFontSize":10.3,"titleFontWeight":"normal"}},"y2":{"field":"f1"}}},
{"transform":[{"filter":"datum.k=='grey'"}],"mark":{"type":"rule","opacity":0},"encoding":{"x":{"field":"s0","type":"quantitative","axis":null},"y":{"field":"f0","type":"quantitative","axis":{"orient":"right","title":"(15)","values":[0,50,100,150,200,250,300,350,400,450,500,550,600,650,700,750,800,850,900,950,1000],"labels":false,"tickSize":{"condition":{"test":"datum.value % 200 == 0","value":3.3},"value":2.3},"titleX":-657.65,"titleY":16.6,"titleAngle":0,"titleAlign":"left","titleBaseline":"middle","titleFont":"DejaVu Sans","titleFontSize":9.5,"titleFontWeight":"normal","titleColor":"#b4b4b4"}}}}
]},
{"width":609,"height":164,"transform":[{"filter":"datum.p==16"}],"resolve":{"axis":{"x":"independent","y":"independent"}},"layer":[
{"transform":[{"filter":"datum.k=='grey'"}],"mark":{"type":"rect","fill":"#555555"},"encoding":{"x":{"field":"s0","type":"quantitative","scale":{"domain":[0,60],"nice":false,"zero":false},"axis":{"title":null,"offset":17,"values":[0,1,2,3,4,5,6,7,8,9,10,11,12,13,14,15,16,17,18,19,20,21,22,23,24,25,26,27,28,29,30,31,32,33,34,35,36,37,38,39,40,41,42,43,44,45,46,47,48,49,50,51,52,53,54,55,56,57,58,59,60],"tickSize":{"condition":{"test":"datum.value % 5 == 0","value":3.5},"value":2},"labelFlush":false,"labelOverlap":false,"labelBound":false,"labelPadding":5.6,"labelLineHeight":8.25,"labelExpr":"datum.value == 0 ? ['5:51:00','16','May','2025'] : datum.value == 60 ? '52:00' : datum.value % 5 == 0 ? '' + datum.value : ''"}},"x2":{"field":"s1"},"y":{"field":"f0","type":"quantitative","scale":{"domain":[0,1000],"nice":false,"zero":false},"axis":{"title":"Frequency (Hz)","values":[0,50,100,150,200,250,300,350,400,450,500,550,600,650,700,750,800,850,900,950,1000],"format":"d","labelExpr":"datum.value % 200 == 0 ? datum.label : ''","tickSize":{"condition":{"test":"datum.value % 200 == 0","value":3.3},"value":2.3},"labelPadding":3.5,"labelFlush":true,"labelOverlap":false,"titleX":-36.95,"titleY":82,"titleAngle":-90,"titleAlign":"center","titleBaseline":"alphabetic","titleFont":"Liberation Sans","titleFontSize":10.3,"titleFontWeight":"normal"}},"y2":{"field":"f1"}}},
{"transform":[{"filter":"datum.k=='grey'"}],"mark":{"type":"rule","opacity":0},"encoding":{"x":{"field":"s0","type":"quantitative","axis":null},"y":{"field":"f0","type":"quantitative","axis":{"orient":"right","title":"(16)","values":[0,50,100,150,200,250,300,350,400,450,500,550,600,650,700,750,800,850,900,950,1000],"labels":false,"tickSize":{"condition":{"test":"datum.value % 200 == 0","value":3.3},"value":2.3},"titleX":-657.65,"titleY":16.6,"titleAngle":0,"titleAlign":"left","titleBaseline":"middle","titleFont":"DejaVu Sans","titleFontSize":9.5,"titleFontWeight":"normal","titleColor":"#b4b4b4"}}}}
]},
{"width":609,"height":164,"transform":[{"filter":"datum.p==17"}],"resolve":{"axis":{"x":"independent","y":"independent"}},"layer":[
{"transform":[{"filter":"datum.k=='grey'"}],"mark":{"type":"rect","fill":"#555555"},"encoding":{"x":{"field":"s0","type":"quantitative","scale":{"domain":[0,60],"nice":false,"zero":false},"axis":{"title":null,"offset":17,"values":[0,1,2,3,4,5,6,7,8,9,10,11,12,13,14,15,16,17,18,19,20,21,22,23,24,25,26,27,28,29,30,31,32,33,34,35,36,37,38,39,40,41,42,43,44,45,46,47,48,49,50,51,52,53,54,55,56,57,58,59,60],"tickSize":{"condition":{"test":"datum.value % 5 == 0","value":3.5},"value":2},"labelFlush":false,"labelOverlap":false,"labelBound":false,"labelPadding":5.6,"labelLineHeight":8.25,"labelExpr":"datum.value == 0 ? ['5:52:00','16','May','2025'] : datum.value == 60 ? '53:00' : datum.value % 5 == 0 ? '' + datum.value : ''"}},"x2":{"field":"s1"},"y":{"field":"f0","type":"quantitative","scale":{"domain":[0,1000],"nice":false,"zero":false},"axis":{"title":"Frequency (Hz)","values":[0,50,100,150,200,250,300,350,400,450,500,550,600,650,700,750,800,850,900,950,1000],"format":"d","labelExpr":"datum.value % 200 == 0 ? datum.label : ''","tickSize":{"condition":{"test":"datum.value % 200 == 0","value":3.3},"value":2.3},"labelPadding":3.5,"labelFlush":true,"labelOverlap":false,"titleX":-36.95,"titleY":82,"titleAngle":-90,"titleAlign":"center","titleBaseline":"alphabetic","titleFont":"Liberation Sans","titleFontSize":10.3,"titleFontWeight":"normal"}},"y2":{"field":"f1"}}},
{"transform":[{"filter":"datum.k=='grey'"}],"mark":{"type":"rule","opacity":0},"encoding":{"x":{"field":"s0","type":"quantitative","axis":null},"y":{"field":"f0","type":"quantitative","axis":{"orient":"right","title":"(17)","values":[0,50,100,150,200,250,300,350,400,450,500,550,600,650,700,750,800,850,900,950,1000],"labels":false,"tickSize":{"condition":{"test":"datum.value % 200 == 0","value":3.3},"value":2.3},"titleX":-657.65,"titleY":16.6,"titleAngle":0,"titleAlign":"left","titleBaseline":"middle","titleFont":"DejaVu Sans","titleFontSize":9.5,"titleFontWeight":"normal","titleColor":"#b4b4b4"}}}}
]}
]
}
